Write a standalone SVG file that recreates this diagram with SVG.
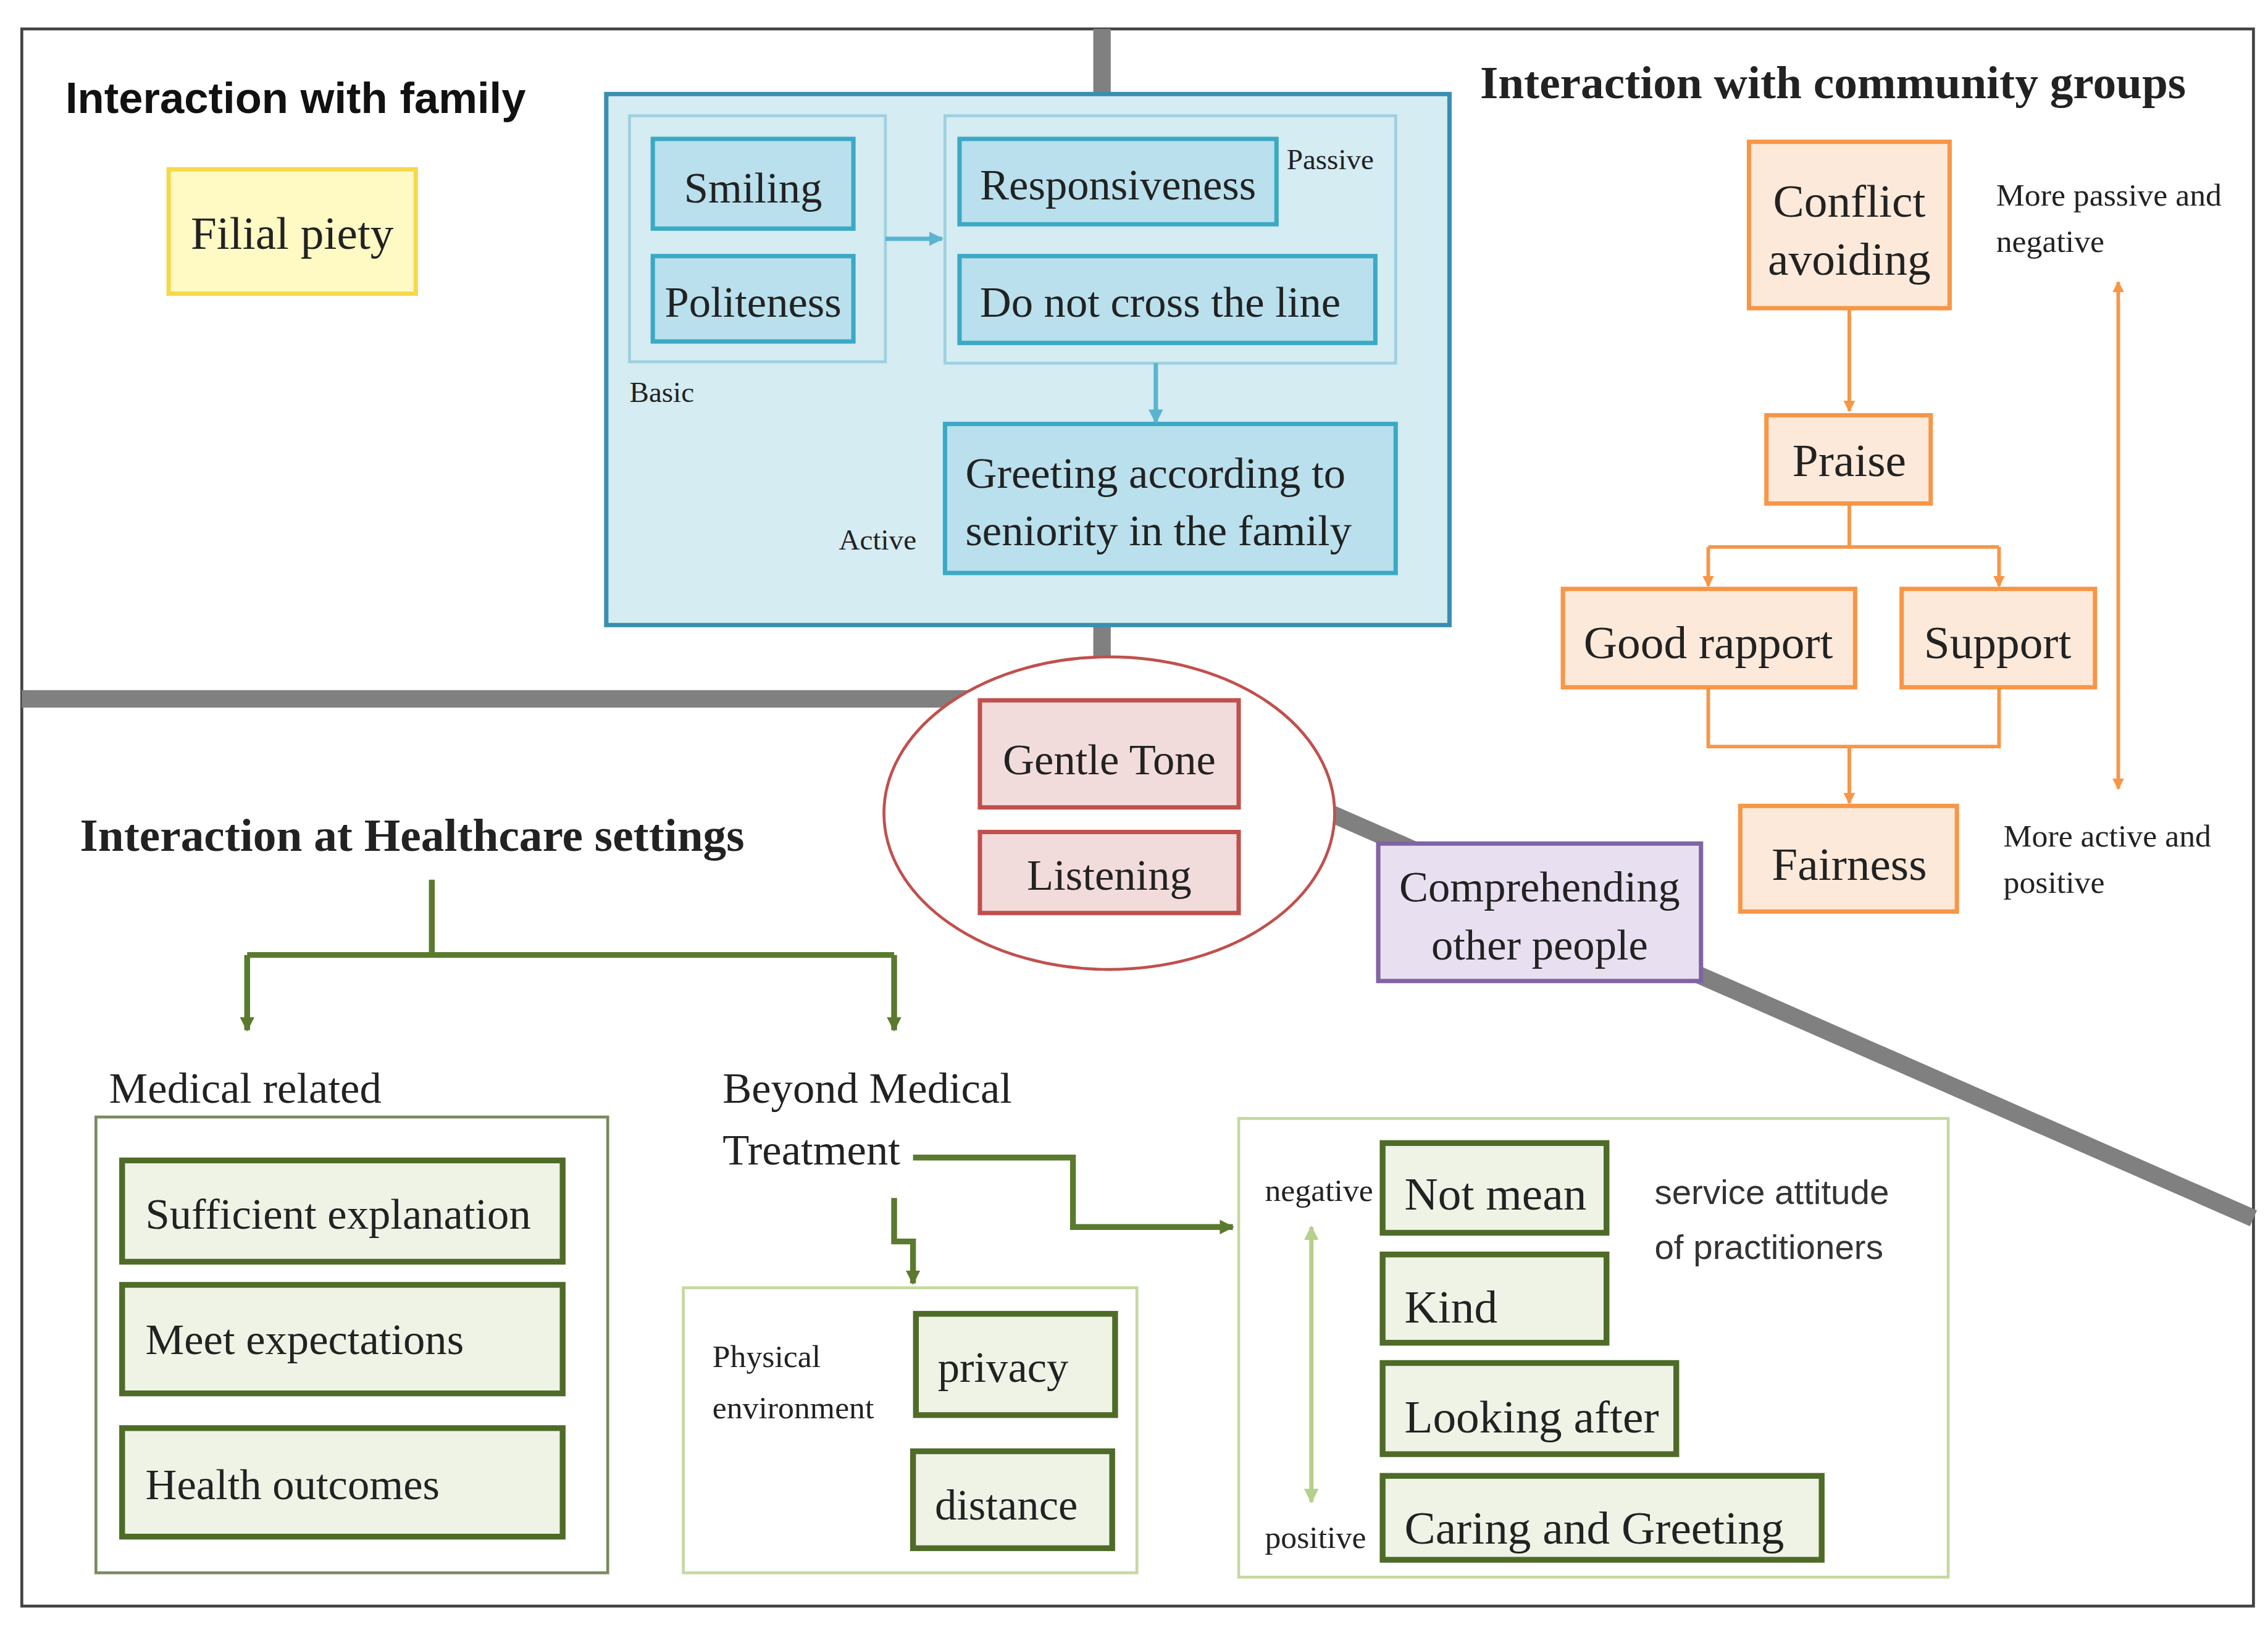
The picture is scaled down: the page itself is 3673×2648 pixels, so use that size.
<svg xmlns="http://www.w3.org/2000/svg" width="3673" height="2648" viewBox="0 0 3673 2648">
<style>
.s{font-family:"Liberation Serif",serif;fill:#222}
.b{fill:#b9e0ec;stroke:#3aa9c5;stroke-width:3}
.o{fill:#fde9d9;stroke:#f79646;stroke-width:3}
.g{fill:#eef3e6;stroke:#4f6b28;stroke-width:4}
.oc{stroke:#f79646;stroke-width:2.5;fill:none}
.gc{stroke:#5a7a2e;stroke-width:4;fill:none}
.gray{stroke:#808080;stroke-width:12;fill:none}
</style>
<defs>
<marker id="ao" markerWidth="8" markerHeight="8" refX="7" refY="4" orient="auto-start-reverse" markerUnits="userSpaceOnUse"><path d="M0,0L8,4L0,8z" fill="#f79646"/></marker>
<marker id="ag" markerWidth="10" markerHeight="10" refX="9" refY="5" orient="auto-start-reverse" markerUnits="userSpaceOnUse"><path d="M0,0L10,5L0,10z" fill="#5a7a2e"/></marker>
<marker id="al" markerWidth="10" markerHeight="10" refX="9" refY="5" orient="auto-start-reverse" markerUnits="userSpaceOnUse"><path d="M0,0L10,5L0,10z" fill="#b5d08a"/></marker>
<marker id="ab" markerWidth="10" markerHeight="10" refX="9" refY="5" orient="auto" markerUnits="userSpaceOnUse"><path d="M0,0L10,5L0,10z" fill="#5ab4d0"/></marker>
</defs>
<rect width="3673" height="2648" fill="#fff"/>
<g transform="scale(2.3545,2.3434)">
<rect x="15" y="20" width="1535" height="1090" fill="none" stroke="#444" stroke-width="2"/>
<g id="connectors">
<path class="gray" d="M758,20V65M758,430V455M15,483H680M915,562L1550,842"/>
<path class="oc" d="M1272,213V284" marker-end="url(#ao)"/>
<path class="oc" d="M1272,348V378M1175,378H1375"/>
<path class="oc" d="M1175,378V405" marker-end="url(#ao)"/>
<path class="oc" d="M1375,378V405" marker-end="url(#ao)"/>
<path class="oc" d="M1175,475V516H1375V475M1272,516V555" marker-end="url(#ao)"/>
<path class="oc" d="M1457,195V545" marker-start="url(#ao)" marker-end="url(#ao)"/>
<path class="gc" d="M297,608V660M170,660H615"/>
<path class="gc" d="M170,660V712" marker-end="url(#ag)"/>
<path class="gc" d="M615,660V712" marker-end="url(#ag)"/>
<path class="gc" d="M628,800H738V848H848" marker-end="url(#ag)"/>
<path class="gc" d="M615,828V858H628V887" marker-end="url(#ag)"/>
</g>
<g id="titles">
<text x="45" y="78" font-family="Liberation Sans,sans-serif" font-weight="bold" font-size="30" fill="#111">Interaction with family</text>
<text x="1018" y="68" class="s" font-weight="bold" font-size="32" fill="#111">Interaction with community groups</text>
<text x="55" y="588" class="s" font-weight="bold" font-size="32" fill="#111">Interaction at Healthcare settings</text>
</g>
<g id="filial"><rect x="116" y="117" width="170" height="86" fill="#fff9c4" stroke="#f5d94a" stroke-width="3"/><text x="201" y="172" class="s" font-size="32" text-anchor="middle">Filial piety</text></g>
<g id="family">
<rect x="417" y="65" width="580" height="367" fill="#d4ecf2" stroke="#3a8fb0" stroke-width="3"/>
<rect x="433" y="80" width="176" height="170" fill="none" stroke="#9fd0e0" stroke-width="2"/>
<rect x="650" y="80" width="310" height="171" fill="none" stroke="#9fd0e0" stroke-width="2"/>
<g id="smiling"><rect class="b" x="449" y="96" width="138" height="62"/><text x="518" y="140" class="s" font-size="30" text-anchor="middle" font-family="Liberation Sans,sans-serif">Smiling</text></g>
<g id="politeness"><rect class="b" x="449" y="177" width="138" height="59"/><text x="518" y="219" class="s" font-size="30" text-anchor="middle">Politeness</text></g>
<g id="resp"><rect class="b" x="660" y="96" width="218" height="59"/><text x="769" y="138" class="s" font-size="30" text-anchor="middle">Responsiveness</text></g>
<g id="line"><rect class="b" x="660" y="177" width="286" height="60"/><text x="798" y="219" class="s" font-size="30" text-anchor="middle">Do not cross the line</text></g>
<g id="greet"><rect class="b" x="650" y="293" width="310" height="103"/><text x="664" y="337" class="s" font-size="30">Greeting according to</text><text x="664" y="377" class="s" font-size="30">seniority in the family</text></g>
<text x="433" y="278" class="s" font-size="20">Basic</text>
<text x="885" y="117" class="s" font-size="20">Passive</text>
<text x="577" y="380" class="s" font-size="20">Active</text>
</g>
<g id="family-connectors">
<path d="M609,165H648" stroke="#5ab4d0" stroke-width="3" marker-end="url(#ab)"/>
<path d="M795,251V292" stroke="#5ab4d0" stroke-width="3" marker-end="url(#ab)"/>
</g>
<g id="center">
<ellipse cx="763" cy="562" rx="155" ry="108" fill="#fff" stroke="#c0504d" stroke-width="2"/>
<rect x="674" y="484" width="178" height="74" fill="#f2dcdb" stroke="#c0504d" stroke-width="3"/><text x="763" y="535" class="s" font-size="30" text-anchor="middle">Gentle Tone</text>
<rect x="674" y="575" width="178" height="56" fill="#f2dcdb" stroke="#c0504d" stroke-width="3"/><text x="763" y="615" class="s" font-size="30" text-anchor="middle">Listening</text>
</g>
<g id="comprehending"><rect x="948" y="583" width="222" height="95" fill="#e8e0f0" stroke="#8064a2" stroke-width="3"/><text x="1059" y="623" class="s" font-size="30" text-anchor="middle">Comprehending</text><text x="1059" y="663" class="s" font-size="30" text-anchor="middle">other people</text></g>
<g id="conflict"><rect class="o" x="1203" y="98" width="138" height="115"/><text x="1272" y="150" class="s" font-size="32" text-anchor="middle">Conflict</text><text x="1272" y="190" class="s" font-size="32" text-anchor="middle">avoiding</text></g>
<g id="praise"><rect class="o" x="1215" y="287" width="113" height="61"/><text x="1272" y="329" class="s" font-size="32" text-anchor="middle">Praise</text></g>
<g id="rapport"><rect class="o" x="1075" y="407" width="201" height="68"/><text x="1175" y="455" class="s" font-size="32" text-anchor="middle">Good rapport</text></g>
<g id="support"><rect class="o" x="1308" y="407" width="133" height="68"/><text x="1374" y="455" class="s" font-size="32" text-anchor="middle">Support</text></g>
<g id="fairness"><rect class="o" x="1197" y="557" width="149" height="73"/><text x="1272" y="608" class="s" font-size="32" text-anchor="middle">Fairness</text></g>
<g class="s" font-size="22" fill="#555"><text x="1373" y="142">More passive and</text><text x="1373" y="174">negative</text><text x="1378" y="585">More active and</text><text x="1378" y="617">positive</text></g>
<g id="medical">
<text x="75" y="762" class="s" font-size="30">Medical related</text>
<rect x="66" y="772" width="352" height="315" fill="#fff" stroke="#7a8a60" stroke-width="2"/>
<rect class="g" x="84" y="802" width="303" height="70"/><text x="100" y="849" class="s" font-size="30">Sufficient explanation</text>
<rect class="g" x="84" y="888" width="303" height="75"/><text x="100" y="936" class="s" font-size="30">Meet expectations</text>
<rect class="g" x="84" y="987" width="303" height="75"/><text x="100" y="1036" class="s" font-size="30">Health outcomes</text>
</g>
<g id="beyond"><text x="497" y="762" class="s" font-size="30">Beyond Medical</text><text x="497" y="805" class="s" font-size="30">Treatment</text></g>
<g id="physical">
<rect x="470" y="890" width="312" height="197" fill="#fff" stroke="#c5d9a0" stroke-width="2"/>
<text x="490" y="945" class="s" font-size="22" fill="#444">Physical</text><text x="490" y="980" class="s" font-size="22" fill="#444">environment</text>
<rect class="g" x="630" y="908" width="137" height="70"/><text x="645" y="955" class="s" font-size="30">privacy</text>
<rect class="g" x="628" y="1003" width="137" height="67"/><text x="643" y="1050" class="s" font-size="30">distance</text>
</g>
<g id="service">
<rect x="852" y="773" width="488" height="317" fill="#fff" stroke="#c5d9a0" stroke-width="2"/>
<path d="M902,848V1038" stroke="#b5d08a" stroke-width="3" marker-start="url(#al)" marker-end="url(#al)"/>
<text x="870" y="830" class="s" font-size="22" fill="#444">negative</text><text x="870" y="1070" class="s" font-size="22" fill="#444">positive</text>
<rect class="g" x="951" y="790" width="154" height="62"/><text x="966" y="836" class="s" font-size="32">Not mean</text>
<rect class="g" x="951" y="867" width="154" height="61"/><text x="966" y="914" class="s" font-size="32">Kind</text>
<rect class="g" x="951" y="942" width="202" height="63"/><text x="966" y="990" class="s" font-size="32">Looking after</text>
<rect class="g" x="951" y="1020" width="302" height="58"/><text x="966" y="1067" class="s" font-size="32">Caring and Greeting</text>
<text x="1138" y="832" font-family="Liberation Sans,sans-serif" font-size="24" fill="#333">service attitude</text>
<text x="1138" y="870" font-family="Liberation Sans,sans-serif" font-size="24" fill="#333">of practitioners</text>
</g>
</g>
</svg>
